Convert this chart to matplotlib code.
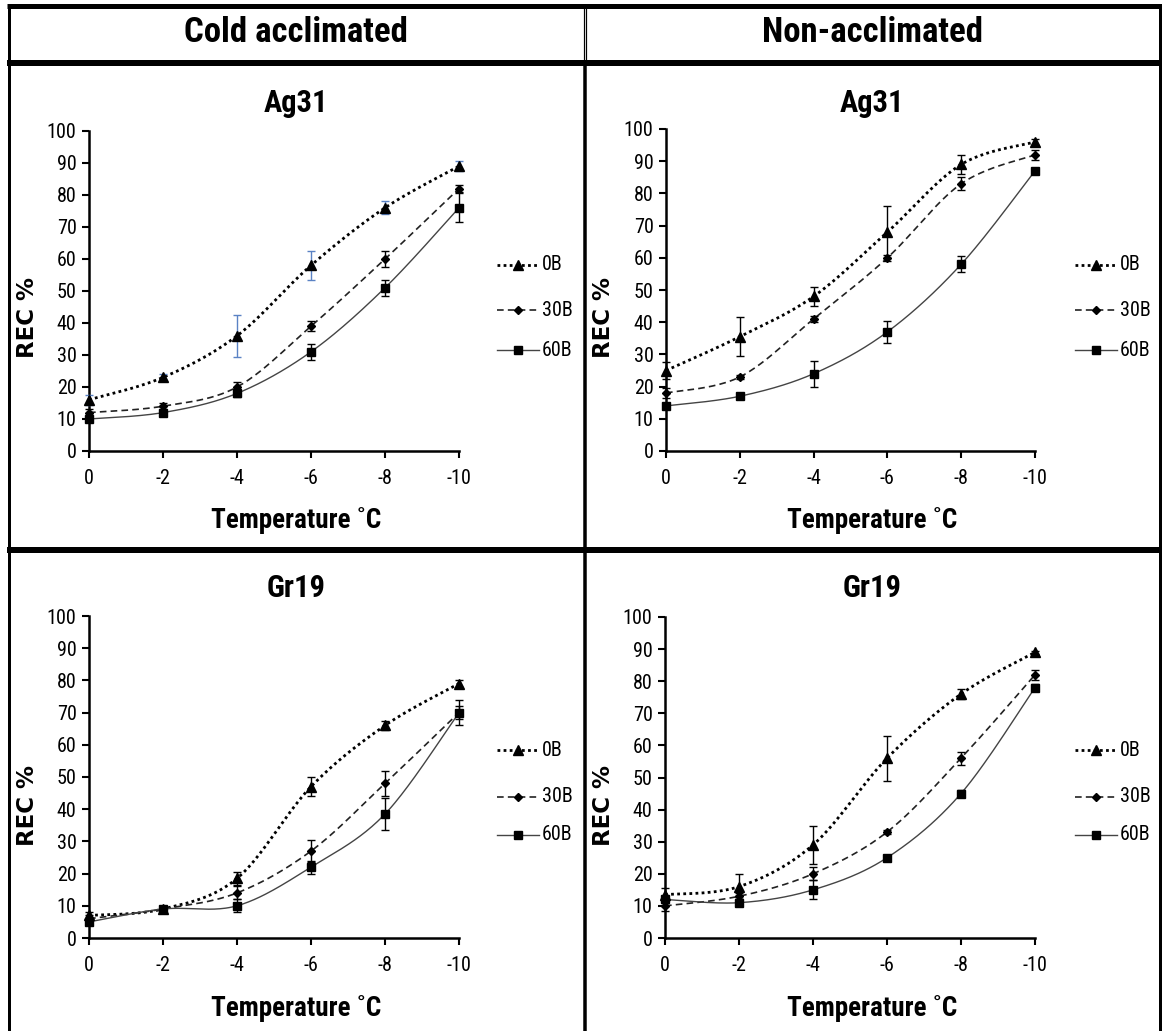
import numpy as np
import matplotlib
matplotlib.use('Agg')
import matplotlib.pyplot as plt
from matplotlib.lines import Line2D
from matplotlib import font_manager
from matplotlib.font_manager import FontProperties

# ---------------- data ----------------
temps = [0, -2, -4, -6, -8, -10]
xtick_labels = ['0', '-2', '-4', '-6', '-8', '-10']
ytick_values = [0, 10, 20, 30, 40, 50, 60, 70, 80, 90, 100]
series_names = ['0B', '30B', '60B']
column_titles = ['Cold acclimated', 'Non-acclimated']
panel_titles = ['Ag31', 'Gr19']

# Cold acclimated, Ag31
ca_ag31_0B = [16, 23, 36, 58, 76, 89]
ca_ag31_0B_err = [1.5, 1, 6.5, 4.5, 2, 1.5]
ca_ag31_30B = [12, 14, 20, 39, 60, 82]
ca_ag31_30B_err = [1, 1, 1.5, 1.5, 2.5, 1]
ca_ag31_60B = [10, 12, 18, 31, 51, 76]
ca_ag31_60B_err = [0.5, 0.5, 1, 2.5, 2.5, 4.5]

# Non-acclimated, Ag31
na_ag31_0B = [25, 35.5, 48, 68, 89, 96]
na_ag31_0B_err = [2.5, 6, 3, 8, 3, 1]
na_ag31_30B = [18, 23, 41, 60, 83, 92]
na_ag31_30B_err = [1.5, 0.5, 1, 1, 2, 1.5]
na_ag31_60B = [14, 17, 24, 37, 58, 87]
na_ag31_60B_err = [1, 0.5, 4, 3.5, 2.5, 1]

# Cold acclimated, Gr19
ca_gr19_0B = [7, 9, 18.5, 47, 66, 79]
ca_gr19_0B_err = [1, 0.5, 2, 3, 1.5, 1]
ca_gr19_30B = [6, 9, 14, 27, 48, 70]
ca_gr19_30B_err = [1, 0.5, 2, 3.5, 4, 2]
ca_gr19_60B = [5, 9, 10, 22, 38.5, 70]
ca_gr19_60B_err = [1, 1, 2, 2, 5, 4]

# Non-acclimated, Gr19
na_gr19_0B = [13.5, 16, 29, 56, 76, 89]
na_gr19_0B_err = [2, 4, 6, 7, 1.5, 0.5]
na_gr19_30B = [10, 13, 20, 33, 56, 82]
na_gr19_30B_err = [1.5, 1, 2, 0.5, 2, 1.5]
na_gr19_60B = [12, 11, 15, 25, 45, 78]
na_gr19_60B_err = [1, 1, 3, 0.5, 1, 1]


# ---------------- fonts ----------------
def find_narrow(bold):
    entries = font_manager.fontManager.ttflist
    prefs = ['liberationsansnarrow', 'arialnarrow', 'robotocondensed', 'opensanscondensed',
             'opensanscond', 'notosanscondensed', 'dejavusanscondensed']
    for p in prefs:
        for e in entries:
            fn = e.fname.lower().replace('-', '').replace(' ', '').replace('_', '')
            if p in fn:
                isbold = ('bold' in fn) and ('semibold' not in fn) and ('extrabold' not in fn)
                isital = 'italic' in fn or 'oblique' in fn
                if isital:
                    continue
                if bold == isbold and (bold or 'regular' in fn or fn.endswith(p + '.ttf')
                                       or 'bold' not in fn and 'light' not in fn and 'thin' not in fn
                                       and 'medium' not in fn and 'black' not in fn):
                    return e.fname
    return None


nb = find_narrow(True)
nr = find_narrow(False)
if nb and nr:
    FP_BOLD = lambda size: FontProperties(fname=nb, size=size)
    FP_REG = lambda size: FontProperties(fname=nr, size=size)
    SCALE = 1.0
else:
    FP_BOLD = lambda size: FontProperties(family='Liberation Sans', weight='bold', size=size)
    FP_REG = lambda size: FontProperties(family='Liberation Sans', size=size)
    SCALE = 0.82
FP_WIDE_BOLD = lambda size: FontProperties(family='DejaVu Sans', weight='bold', size=size)

W, H = 1162, 1031
fig = plt.figure(figsize=(W / 100, H / 100), dpi=100)


def fx(px):
    return px / W


def fy(py):
    return 1 - py / H


def smooth(xs, ys, n=40):
    """Excel-like smoothed line (Bezier through points)."""
    P = np.column_stack([xs, ys]).astype(float)
    m = len(P)
    out = []
    for i in range(m - 1):
        p0 = P[i - 1] if i > 0 else P[i]
        p1 = P[i]
        p2 = P[i + 1]
        p3 = P[i + 2] if i + 2 < m else P[i + 1]
        c1 = p1 + (p2 - p0) / 6
        c2 = p2 - (p3 - p1) / 6
        t = np.linspace(0, 1, n)[:, None]
        seg = ((1 - t) ** 3) * p1 + 3 * ((1 - t) ** 2) * t * c1 + 3 * (1 - t) * t ** 2 * c2 + t ** 3 * p2
        out.append(seg if i == 0 else seg[1:])
    S = np.vstack(out)
    return S[:, 0], S[:, 1]


styles = {
    '0B': dict(ls=(0, (1, 1.2)), lw=2.0, marker='^', ms=7.5),
    '30B': dict(ls=(0, (4, 2.5)), lw=1.2, marker='D', ms=4.5),
    '60B': dict(ls='-', lw=1.0, marker='s', ms=5.5),
}
line_colors = {'0B': 'black', '30B': '#222222', '60B': '#444444'}

panels = [
    ((89, 459, 131, 451), [(ca_ag31_0B, ca_ag31_0B_err), (ca_ag31_30B, ca_ag31_30B_err), (ca_ag31_60B, ca_ag31_60B_err)], '#5a82c4'),
    ((666, 1035, 129, 451), [(na_ag31_0B, na_ag31_0B_err), (na_ag31_30B, na_ag31_30B_err), (na_ag31_60B, na_ag31_60B_err)], 'black'),
    ((89, 459, 616, 938), [(ca_gr19_0B, ca_gr19_0B_err), (ca_gr19_30B, ca_gr19_30B_err), (ca_gr19_60B, ca_gr19_60B_err)], 'black'),
    ((665, 1035, 617, 938), [(na_gr19_0B, na_gr19_0B_err), (na_gr19_30B, na_gr19_30B_err), (na_gr19_60B, na_gr19_60B_err)], 'black'),
]

TICK_SIZE = 14.5 * SCALE
for k, (box, data, err0col) in enumerate(panels):
    x0, x1, yt, yb = box
    ax = fig.add_axes([fx(x0), fy(yb), fx(x1 - x0), (yb - yt) / H])
    for name, (vals, errs) in zip(series_names, data):
        st = styles[name]
        col = line_colors[name]
        sx, sy = smooth(temps, vals)
        ax.plot(sx, sy, color=col, ls=st['ls'], lw=st['lw'], clip_on=False, zorder=3)
        ecol = err0col if name == '0B' else 'black'
        ax.errorbar(temps, vals, yerr=errs, fmt='none', ecolor=ecol, elinewidth=1.0,
                    capsize=3, capthick=1.0, clip_on=False, zorder=4)
        ax.plot(temps, vals, ls='none', marker=st['marker'], ms=st['ms'], color='black',
                mec='black', clip_on=False, zorder=5)
    ax.set_xlim(0, -10)
    ax.set_ylim(0, 100)
    ax.set_xticks(temps)
    ax.set_xticklabels(xtick_labels)
    ax.set_yticks(ytick_values)
    ax.set_yticklabels([str(v) for v in ytick_values])
    for s in ['top', 'right']:
        ax.spines[s].set_visible(False)
    for s in ['left', 'bottom']:
        ax.spines[s].set_linewidth(1.8)
    ax.tick_params(axis='both', direction='out', length=5, width=1.5, colors='black')
    ax.tick_params(axis='x', pad=8)
    ax.tick_params(axis='y', pad=4)
    for lab in ax.get_xticklabels() + ax.get_yticklabels():
        lab.set_fontproperties(FP_REG(TICK_SIZE))
    ax.patch.set_alpha(0)

    col = k % 2
    row = k // 2
    cx = 296 if col == 0 else 872
    fig.text(fx(cx), fy(103 if row == 0 else 588), panel_titles[row], ha='center', va='center',
             fontproperties=FP_BOLD(22 * SCALE))
    fig.text(fx(cx), fy(520 if row == 0 else 1008), 'Temperature \u02daC', ha='center', va='center',
             fontproperties=FP_BOLD(19.5 * SCALE))
    fig.text(fx(27 if col == 0 else 603), fy(318 if row == 0 else 805), 'REC %', ha='center', va='center',
             rotation=90, fontproperties=FP_WIDE_BOLD(16.5))

    lx0 = 497 if col == 0 else 1075
    ly = [265, 310, 350] if row == 0 else [750, 797, 835]
    for name, yy in zip(series_names, ly):
        st = styles[name]
        ln = Line2D([fx(lx0), fx(lx0 + 21), fx(lx0 + 42)], [fy(yy)] * 3, transform=fig.transFigure,
                    color=line_colors[name], ls=st['ls'], lw=st['lw'], marker=st['marker'],
                    ms=st['ms'], markevery=[1], mfc='black', mec='black')
        fig.add_artist(ln)
        fig.text(fx(lx0 + 45), fy(yy), name, ha='left', va='center', fontproperties=FP_REG(TICK_SIZE))

fig.text(fx(296), fy(33), column_titles[0], ha='center', va='center', fontproperties=FP_BOLD(25 * SCALE))
fig.text(fx(872), fy(33), column_titles[1], ha='center', va='center', fontproperties=FP_BOLD(25 * SCALE))


def hline(y, xa, xb, px):
    fig.add_artist(Line2D([fx(xa), fx(xb)], [fy(y), fy(y)], transform=fig.transFigure,
                          color='black', lw=px * 0.72, solid_capstyle='butt'))


def vline(x, ya, yb, px):
    fig.add_artist(Line2D([fx(x), fx(x)], [fy(ya), fy(yb)], transform=fig.transFigure,
                          color='black', lw=px * 0.72, solid_capstyle='butt'))


hline(6, 7, 1162, 5)
hline(63, 7, 1162, 6)
hline(550, 7, 1162, 6)
vline(8.5, 3.5, 1031, 3)
vline(1160, 3.5, 1031, 3)
vline(583.5, 8, 60, 1.2)
vline(586, 8, 60, 1.2)
vline(584.5, 60, 1031, 3.5)

fig.savefig('out.png', dpi=100)
